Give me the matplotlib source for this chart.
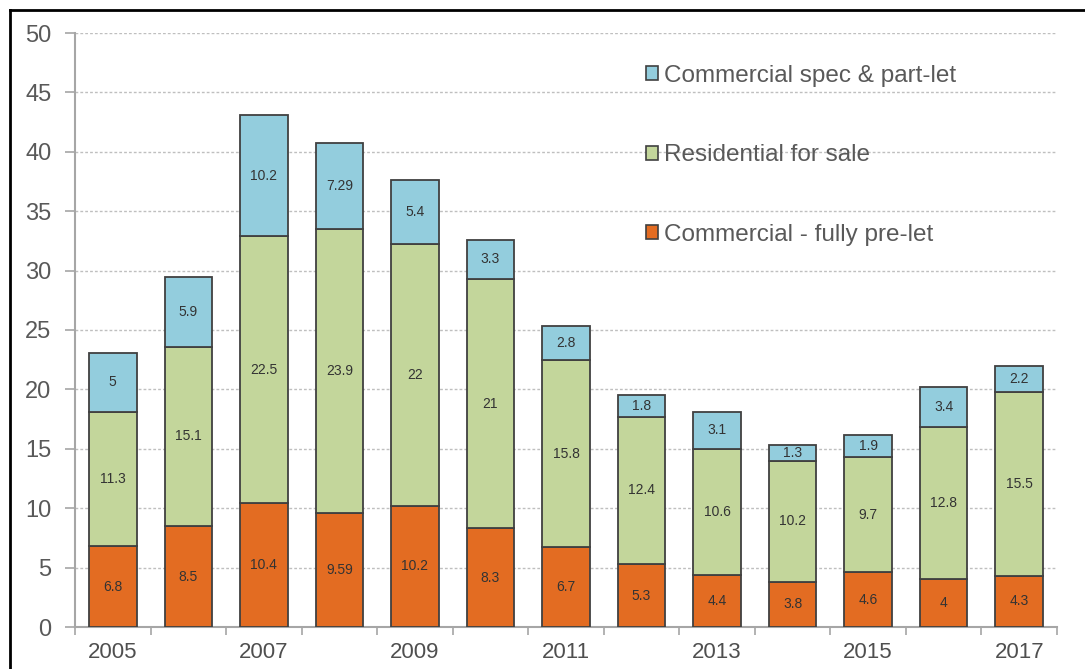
import matplotlib
matplotlib.use("Agg")
import matplotlib.pyplot as plt
from matplotlib.lines import Line2D
from matplotlib.patches import Patch
import numpy as np

years = [2005, 2006, 2007, 2008, 2009, 2010, 2011, 2012, 2013, 2014, 2015, 2016, 2017]
pre_let = [6.8, 8.5, 10.4, 9.59, 10.2, 8.3, 6.7, 5.3, 4.4, 3.8, 4.6, 4, 4.3]
residential = [11.3, 15.1, 22.5, 23.9, 22, 21, 15.8, 12.4, 10.6, 10.2, 9.7, 12.8, 15.5]
spec = [5, 5.9, 10.2, 7.29, 5.4, 3.3, 2.8, 1.8, 3.1, 1.3, 1.9, 3.4, 2.2]

labels_pre = ["6.8", "8.5", "10.4", "9.59", "10.2", "8.3", "6.7", "5.3", "4.4", "3.8", "4.6", "4", "4.3"]
labels_res = ["11.3", "15.1", "22.5", "23.9", "22", "21", "15.8", "12.4", "10.6", "10.2", "9.7", "12.8", "15.5"]
labels_spec = ["5", "5.9", "10.2", "7.29", "5.4", "3.3", "2.8", "1.8", "3.1", "1.3", "1.9", "3.4", "2.2"]

series_names = ["Commercial - fully pre-let", "Residential for sale", "Commercial spec & part-let"]
colors = ["#E36C22", "#C3D69B", "#93CDDD"]

plt.rcParams['font.family'] = ['Liberation Sans', 'DejaVu Sans']

fig = plt.figure(figsize=(10.85, 6.69), dpi=100)
ax = fig.add_axes([75/1085, 1-627/669, (1057-75)/1085, (627-33)/669])

x = np.arange(len(years))
w = 0.63
edge = "#404040"
b1 = ax.bar(x, pre_let, w, color=colors[0], edgecolor=edge, linewidth=1.3, zorder=3)
b2 = ax.bar(x, residential, w, bottom=pre_let, color=colors[1], edgecolor=edge, linewidth=1.3, zorder=3)
bottom2 = np.array(pre_let) + np.array(residential)
b3 = ax.bar(x, spec, w, bottom=bottom2, color=colors[2], edgecolor=edge, linewidth=1.3, zorder=3)

for bars, labs in [(b1, labels_pre), (b2, labels_res), (b3, labels_spec)]:
    ax.bar_label(bars, labels=labs, label_type='center', fontsize=10, color="#333333", zorder=4)

ax.set_xlim(-0.5, len(years) - 0.5)
ax.set_ylim(0, 50)
ax.set_yticks(np.arange(0, 51, 5))
ax.yaxis.grid(True, linestyle=(0, (2, 1.5)), color="#BFBFBF", linewidth=1.0, zorder=0)
ax.set_axisbelow(True)

ax.set_xticks(x[::2])
ax.set_xticklabels([str(y) for y in years[::2]])
ax.set_xticks(np.arange(-0.5, len(years), 1.0), minor=True)
ax.tick_params(axis='x', which='major', length=0, pad=11, labelsize=16, labelcolor="#4F4F4F")
ax.tick_params(axis='x', which='minor', length=6, color="#A6A6A6", width=1.2)
ax.tick_params(axis='y', length=7, color="#A6A6A6", width=1.2, labelsize=17, labelcolor="#595959", pad=10)

for s in ['top', 'right']:
    ax.spines[s].set_visible(False)
for s in ['left', 'bottom']:
    ax.spines[s].set_color("#A6A6A6")
    ax.spines[s].set_linewidth(1.5)

handles = [Patch(facecolor=colors[2], edgecolor=edge, linewidth=1.2),
           Patch(facecolor=colors[1], edgecolor=edge, linewidth=1.2),
           Patch(facecolor=colors[0], edgecolor=edge, linewidth=1.2)]
leg = ax.legend(handles, [series_names[2], series_names[1], series_names[0]],
                loc='upper left', bbox_to_anchor=(646/1085, 1-65/669),
                bbox_transform=fig.transFigure, frameon=False,
                fontsize=17.5, labelspacing=2.36, handlelength=0.5, handleheight=0.5,
                handletextpad=0.25, borderpad=0, borderaxespad=0)
for t in leg.get_texts():
    t.set_color("#595959")

fig.add_artist(Line2D([10/1085, 1.0], [1-10/669, 1-10/669], color="black", linewidth=2.0))
fig.add_artist(Line2D([10/1085, 10/1085], [0, 1-10/669], color="black", linewidth=2.0))

fig.savefig("out.png", dpi=100)
